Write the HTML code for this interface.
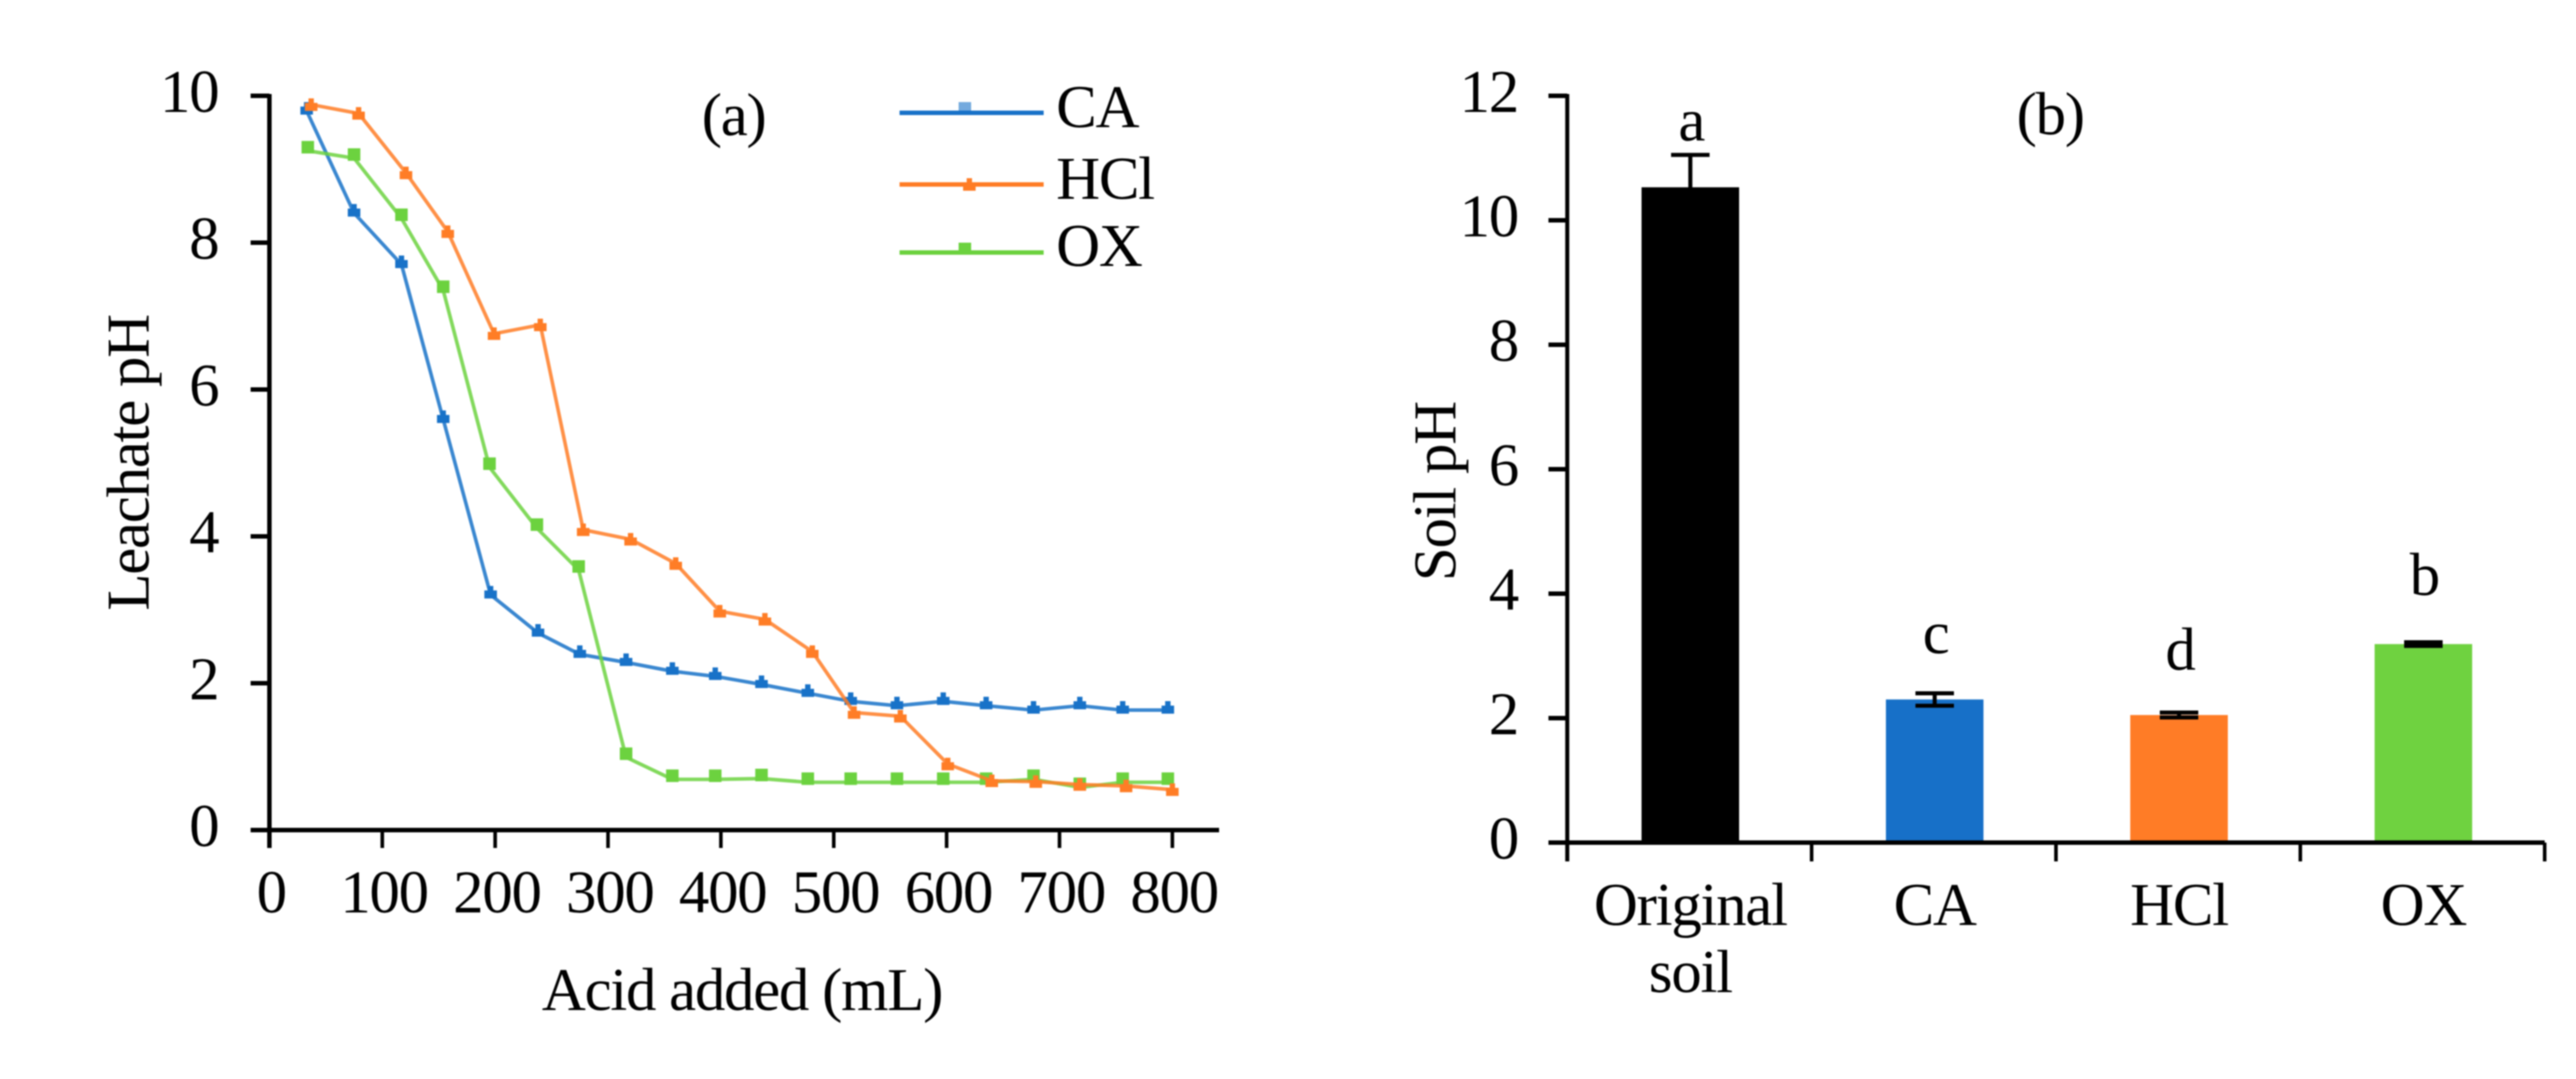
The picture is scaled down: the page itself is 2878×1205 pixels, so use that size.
<!DOCTYPE html>
<html lang="en">
<head>
<meta charset="utf-8">
<title>Leachate pH and Soil pH charts</title>
<style>
  html, body { margin: 0; padding: 0; background: #fff; }
  #figure { display: block; filter: blur(0.7px); }
  text { font-family: "Liberation Serif", serif; font-size: 68px; letter-spacing: -1.4px; fill: #000; }
</style>
</head>
<body>
<svg id="figure" xmlns="http://www.w3.org/2000/svg" width="2878" height="1205" viewBox="0 0 2878 1205">
  <rect width="2878" height="1205" fill="#fff"/>
  <g id="panel-a">
    <text x="784" y="151">(a)</text>
    <text x="829" y="1128" text-anchor="middle">Acid added (mL)</text>
    <text transform="translate(166 517) rotate(-90)" text-anchor="middle">Leachate pH</text>
    <g>
      <g>
        <line x1="1005" x2="1166" y1="126" y2="126" stroke="#1872c8" stroke-width="5"/>
        <rect x="1071" y="114" width="14" height="12" fill="#1872c8" opacity="0.6"/>
        <text x="1180" y="142">CA</text>
      </g>
      <g>
        <line x1="1005" x2="1166" y1="206" y2="206" stroke="#ff7d26" stroke-width="5"/>
        <path d="M1076 213H1090V206H1086V199H1080V206H1076Z" fill="#ff7d26"/>
        <text x="1180" y="222">HCl</text>
      </g>
      <g>
        <line x1="1005" x2="1166" y1="282" y2="282" stroke="#6cd23f" stroke-width="5"/>
        <rect x="1071" y="271" width="14" height="12" fill="#6cd23f"/>
        <text x="1180" y="297">OX</text>
      </g>
    </g>
  </g>
  <g id="panel-b">
    <text x="2253" y="150">(b)</text>
    <text transform="translate(1626 549) rotate(-90)" text-anchor="middle">Soil pH</text>
  </g>
</svg>
<script>
// Panel (a) data
const caVolume = [33,75,117,154,196,238,275,316,357,395,436,477,515,556,597,635,677,718,756,796];
const caPH = [9.83,8.44,7.74,5.63,3.24,2.72,2.43,2.32,2.20,2.13,2.02,1.90,1.79,1.73,1.79,1.73,1.67,1.73,1.67,1.67];
const hclVolume = [37,79,121,158,199,240,278,320,360,399,439,481,518,559,601,640,679,718,759,800];
const hclPH = [9.88,9.76,8.95,8.15,6.76,6.88,4.09,3.96,3.63,2.98,2.87,2.43,1.60,1.55,0.90,0.67,0.66,0.62,0.60,0.55];
const oxVolume = [34,75,117,154,195,237,274,316,357,395,436,477,515,556,597,635,677,718,756,796];
const oxPH = [9.30,9.20,8.38,7.40,4.99,4.16,3.59,1.04,0.74,0.74,0.75,0.70,0.70,0.70,0.70,0.70,0.74,0.63,0.70,0.70];
const volumeTicks = [0,100,200,300,400,500,600,700,800];
const leachateTicks = [0,2,4,6,8,10];

// Panel (b) data
const soilCategories = [["Original","soil"],["CA"],["HCl"],["OX"]];
const soilPH = [10.53,2.30,2.05,3.19];
const soilError = [0.52,0.10,0.04,0.03];
const soilLetters = ["a","c","d","b"];
const soilLetterHeight = [11.28,3.04,2.78,3.98];
const soilTicks = [0,2,4,6,8,10,12];
const soilColors = ["#000000","#1770c8","#ff7c26","#6fd240"];

const NS = "http://www.w3.org/2000/svg";
function make(tag, parent, props, content) {
  const el = document.createElementNS(NS, tag);
  for (const k in props) el.setAttribute(k, props[k]);
  if (content !== undefined) el.textContent = content;
  parent.appendChild(el);
  return el;
}

// Axis functions
const xA = v => 301 + v * 1.261;
const yA = v => 927 - v * 82;
const yB = v => 941 - v * 69.5;
const BAND = 273;
const xBEdge = i => 1751 + BAND * i;
const xBCenter = i => xBEdge(i) + BAND / 2 + 1;

const panelA = document.getElementById("panel-a");
const panelB = document.getElementById("panel-b");

// Panel (a) axes
const axA = make("g", panelA, {});


const yAxisA = make("line", axA, {x1:301,x2:301,y1:yA(10)-2,y2:947,stroke:"#000","stroke-width":5});


const xAxisA = make("line", axA, {x1:280,x2:1362,y1:927,y2:927,stroke:"#000","stroke-width":5});


leachateTicks.forEach(t => {
  const tick = make("line", axA, {x1:280,x2:301,y1:yA(t),y2:yA(t),stroke:"#000","stroke-width":5});
  
  
  const label = make("text", axA, {x:244,y:yA(t)+18,"text-anchor":"end"}, String(t));
  
  
});
volumeTicks.forEach(t => {
  const tick = make("line", axA, {x1:xA(t),x2:xA(t),y1:927,y2:947,stroke:"#000","stroke-width":4});
  
  
  const label = make("text", axA, {x:xA(t)+2,y:1019,"text-anchor":"middle"}, String(t));
  
  
});

// Panel (a) series
function drawSeries(name, xs, ys, color, shift, square) {
  const g = make("g", panelA, {});
  
  
  const pts = xs.map((x, i) => xA(x) + "," + (yA(ys[i]) + shift)).join(" ");
  const line = make("polyline", g, {points:pts,fill:"none",stroke:color,"stroke-width":4,"stroke-opacity":0.85,"stroke-linejoin":"round"});
  
  
  xs.forEach((x, i) => {
    const cx = xA(x), cy = yA(ys[i]);
    const d = square
      ? `M${cx-7} ${cy-7}h14v14h-14z`
      : `M${cx-7} ${cy+7}h14v-9h-4v-5h-6v5h-4z`;
    const point = make("path", g, {d:d,fill:color});
    
    
  });
}
drawSeries("ca", caVolume, caPH, "#1872c8", 3, false);
drawSeries("ox", oxVolume, oxPH, "#6cd23f", 4, true);
drawSeries("hcl", hclVolume, hclPH, "#ff7d26", 0, false);

// Panel (b) bars
soilPH.forEach((v, i) => {
  const cx = xBCenter(i);
  const bar = make("rect", panelB, {x:cx-54.5,y:yB(v),width:109,height:941-yB(v),fill:soilColors[i]});
  
  
  const hi = yB(v + soilError[i]), lo = yB(v - soilError[i]);
  const err = make("path", panelB, {d:`M${cx-21.5} ${hi}H${cx+21.5}M${cx} ${hi}V${lo}M${cx-21.5} ${lo}H${cx+21.5}`,fill:"none",stroke:"#000","stroke-width":4.5});
  
  
  const letter = make("text", panelB, {x:cx+1,y:yB(soilLetterHeight[i]),"text-anchor":"middle"}, soilLetters[i]);
  
  
  soilCategories[i].forEach((word, j) => {
    const cat = make("text", panelB, {x:cx,y:1033+j*75,"text-anchor":"middle"}, word);
    
    
  });
});

// Panel (b) axes
const axB = make("g", panelB, {});


const yAxisB = make("line", axB, {x1:1751,x2:1751,y1:yB(12)-2,y2:962,stroke:"#000","stroke-width":4.5});


const xAxisB = make("line", axB, {x1:1730,x2:2843,y1:941,y2:941,stroke:"#000","stroke-width":5});


soilTicks.forEach(t => {
  const tick = make("line", axB, {x1:1730,x2:1751,y1:yB(t),y2:yB(t),stroke:"#000","stroke-width":5});
  
  
  const label = make("text", axB, {x:1696,y:yB(t)+18,"text-anchor":"end"}, String(t));
  
  
});
for (let i = 0; i <= soilPH.length; i++) {
  const tick = make("line", axB, {x1:xBEdge(i),x2:xBEdge(i),y1:941,y2:962,stroke:"#000","stroke-width":4});
  
  
}
</script>
</body>
</html>
